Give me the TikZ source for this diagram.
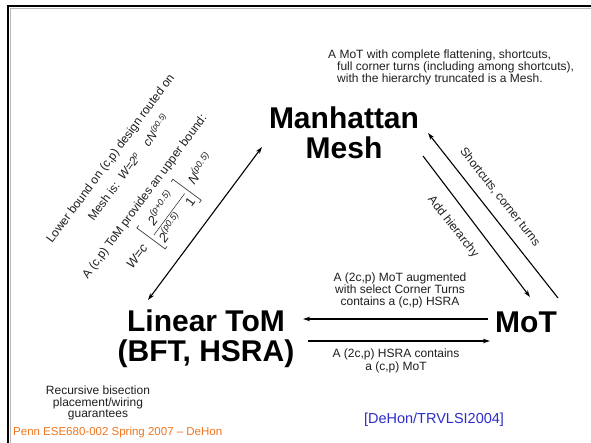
\documentclass[tikz,border=0pt]{standalone}
\usepackage{amsmath}
\usepackage{fontspec}
\setmainfont{Liberation Sans}
\usetikzlibrary{arrows.meta}
\definecolor{footorange}{RGB}{240,118,32}
\definecolor{citeblue}{RGB}{45,45,205}
\begin{document}
\begin{tikzpicture}[x=1pt,y=-1pt,
  big/.style={font=\fontsize{30}{30}\selectfont\bfseries, align=center, inner sep=0pt},
  note/.style={font=\fontsize{12}{12}\selectfont, inner sep=0pt, text=black!88},
  tilted/.style={note, rotate=53.5},
  conn/.style={line width=1.1pt, -{Stealth[length=7pt,width=4.5pt]}},
  dconn/.style={line width=1.1pt, {Stealth[length=7pt,width=4.5pt]}-{Stealth[length=7pt,width=4.5pt]}},
]
\useasboundingbox (0,0) rectangle (591,443);
\fill[white] (0,0) rectangle (591,443);

% slide frame
\draw[gray!55, line width=1pt] (10.6,443) -- (10.6,8.6) -- (591,8.6);
\draw[line width=2.4pt] (8,443) -- (8,6) -- (591,6);

% main topologies
\node[big] (mesh) at (344,133) {Manhattan\\Mesh};
\node[big] (tom) at (206,339) {Linear ToM\\(BFT, HSRA)};
\node[big] (mot) at (526,322) {MoT};

% connector end points
\coordinate (tomA) at (148,300);
\coordinate (meshA) at (262,147);
\coordinate (motS) at (558,298);
\coordinate (meshS) at (428,133);
\coordinate (meshH) at (423,156);
\coordinate (motH) at (530,297);
\coordinate (motL) at (488,319);
\coordinate (tomL) at (303,319);
\coordinate (tomR) at (308,341);
\coordinate (motR) at (490,341);

\draw[dconn] (tomA) -- (meshA);
\draw[conn] (motS) -- (meshS);
\draw[conn] (meshH) -- (motH);
\draw[conn] (motL) -- (tomL);
\draw[conn] (tomR) -- (motR);

% edge labels
\node[note, rotate=-51.6] (lshort) at (500,197) {Shortcuts, corner turns};
\node[note, rotate=-51.6] (lhier) at (453,227) {Add hierarchy};
\node[note, align=center] (laug) at (400,290)
  {A (2c,p) MoT augmented\\with select Corner Turns\\contains a (c,p) HSRA};
\node[note, align=center, font=\fontsize{12}{13}\selectfont] (lcont) at (396,361)
  {A (2c,p) HSRA contains\\a (c,p) MoT};

% annotation near the mesh
\node[note, anchor=base west] (top1) at (328,58.5) {A MoT with complete flattening, shortcuts,};
\node[note, anchor=base west] (top2) at (337,71) {full corner turns (including among shortcuts),};
\node[note, anchor=base west] (top3) at (337,82.5) {with the hierarchy truncated is a Mesh.};

% bounds along the left connector
\node[tilted] (lb1) at (111,159) {Lower bound on (c,p) design routed on};
\node[tilted] (lb2) at (128,167) {Mesh is:\enspace \itshape W=2\textsuperscript{p}\enspace\enspace cN\textsuperscript{(p0.5)}};
\node[tilted] (lb3) at (145,197) {A (c,p) ToM provides an upper bound:};
\node[tilted, font=\fontsize{13}{13}\selectfont] (lb4) at (171,212)
  {$\textit{W=c}\;\left[\dfrac{\text{\itshape 2}^{\text{\itshape (p+0.5)}}}{\text{\itshape 2}^{\text{\itshape (p0.5)}}\quad\text{1}}\right]\,\text{\itshape N}^{\text{\itshape (p0.5)}}$};

% note under the linear ToM
\node[note, align=center, font=\fontsize{12}{11.5}\selectfont] (recur) at (98,403) {Recursive bisection\\placement/wiring\\guarantees};

% footer and citation
\node[note, anchor=west, text=footorange, font=\fontsize{11.5}{12}\selectfont] (foot) at (13,433) {Penn ESE680-002 Spring 2007 -- DeHon};
\node[note, text=citeblue, font=\fontsize{14.5}{16}\selectfont] (cite) at (434,420) {[DeHon/TRVLSI2004]};
\end{tikzpicture}
\end{document}
